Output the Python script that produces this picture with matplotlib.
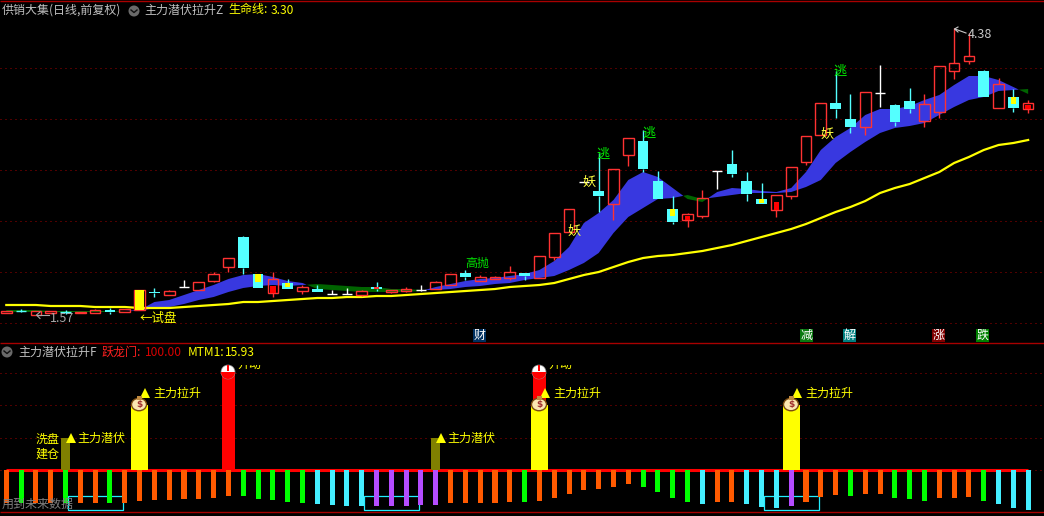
import numpy as np
import matplotlib
matplotlib.use('Agg')
import matplotlib.pyplot as plt
from matplotlib.patches import Rectangle, Circle, Wedge, Ellipse

plt.rcParams['font.family'] = ['Noto Sans CJK SC', 'DejaVu Sans']

# K line, 70 days
kinds = ['r','c','r','r','c','r','r','c','r','r',
         'c','r','w','r','r','r','c','c','r','c',
         'r','c','w','w','r','c','r','r','w','r',
         'r','c','r','r','r','c','r','r','r','w',
         'c','r','r','c','c','c','r','r','w','c',
         'c','c','r','r','r','r','c','c','r','w',
         'c','c','r','r','r','r','c','r','c','r']
body_top = [1.58,1.58,1.58,1.58,1.57,1.57,1.59,1.59,1.60,1.79,
            1.77,1.78,1.82,1.87,1.95,2.11,2.32,1.95,1.90,1.86,
            1.82,1.80,1.75,1.75,1.78,1.82,1.79,1.80,1.79,1.87,
            1.95,1.96,1.92,1.92,1.97,1.96,2.13,2.36,2.60,2.87,
            2.78,3.00,3.31,3.28,2.88,2.60,2.55,2.71,2.98,3.05,
            2.88,2.70,2.74,3.02,3.33,3.66,3.66,3.50,3.77,3.76,
            3.64,3.68,3.65,4.03,4.06,4.13,3.98,3.85,3.72,3.66]
body_bot = [1.56,1.58,1.54,1.56,1.57,1.56,1.56,1.57,1.57,1.59,
            1.76,1.74,1.82,1.79,1.88,2.02,2.01,1.81,1.76,1.80,
            1.78,1.77,1.75,1.75,1.74,1.80,1.77,1.78,1.79,1.80,
            1.84,1.92,1.88,1.90,1.91,1.93,1.91,2.12,2.37,2.87,
            2.73,2.65,3.14,3.00,2.70,2.47,2.49,2.53,2.98,2.95,
            2.75,2.65,2.59,2.73,3.07,3.34,3.60,3.42,3.42,3.76,
            3.47,3.60,3.48,3.57,3.98,4.08,3.72,3.61,3.61,3.60]
highs = [1.58,1.60,1.58,1.58,1.59,1.57,1.60,1.61,1.60,1.79,
         1.81,1.79,1.89,1.87,1.97,2.11,2.33,1.95,1.97,1.90,
         1.84,1.84,1.79,1.81,1.79,1.87,1.79,1.82,1.84,1.88,
         1.95,1.99,1.94,1.93,2.03,1.96,2.13,2.36,2.60,2.87,
         3.16,3.00,3.31,3.39,2.98,2.73,2.56,2.79,2.98,3.19,
         2.97,2.86,2.74,3.02,3.33,3.66,3.98,3.75,3.77,4.04,
         3.65,3.81,3.75,4.03,4.41,4.36,3.99,3.91,3.80,3.69]
lows = [1.56,1.57,1.54,1.56,1.55,1.56,1.56,1.55,1.57,1.59,
        1.72,1.74,1.82,1.79,1.87,1.97,1.95,1.81,1.72,1.80,
        1.75,1.77,1.75,1.75,1.73,1.78,1.76,1.77,1.78,1.80,
        1.84,1.89,1.88,1.90,1.89,1.89,1.91,2.09,2.37,2.87,
        2.57,2.49,3.03,2.97,2.70,2.45,2.42,2.51,2.80,2.92,
        2.68,2.65,2.52,2.70,3.04,3.34,3.51,3.36,3.34,3.62,
        3.43,3.56,3.42,3.51,3.90,4.05,3.72,3.61,3.57,3.56]
# small filled part inside some candles
inner_idx = [17,18,19,25,45,46,51,52,68,69]
inner_top = [1.95,1.83,1.86,1.82,2.60,2.53,2.70,2.67,3.72,3.64]
inner_bot = [1.87,1.76,1.82,1.80,2.53,2.49,2.66,2.59,3.65,3.60]
inner_col = ['#ffff00','#ff0000','#ffff00','#ff3232','#ffff00','#ff0000','#ffff00','#ff0000','#ffff00','#ff0000']

# blue band and life line
fast = [1.57,1.57,1.57,1.57,1.57,1.57,1.57,1.57,1.58,1.59,
        1.67,1.69,1.74,1.79,1.84,1.90,1.94,1.95,1.92,1.88,
        1.86,1.80,1.79,1.78,1.77,1.77,1.77,1.77,1.78,1.82,
        1.85,1.88,1.90,1.91,1.93,1.95,1.99,2.08,2.22,2.46,
        2.56,2.69,2.89,2.97,2.92,2.81,2.70,2.67,2.77,2.81,
        2.80,2.78,2.77,2.81,2.97,3.19,3.32,3.41,3.54,3.60,
        3.60,3.63,3.69,3.74,3.84,3.93,3.93,3.89,3.82,3.75]
slow = [1.59,1.59,1.59,1.58,1.58,1.58,1.58,1.58,1.58,1.58,
        1.61,1.62,1.65,1.69,1.72,1.77,1.81,1.83,1.84,1.83,
        1.84,1.85,1.84,1.83,1.82,1.82,1.80,1.80,1.79,1.79,
        1.80,1.82,1.83,1.85,1.86,1.89,1.91,1.93,1.99,2.06,
        2.16,2.36,2.52,2.61,2.70,2.71,2.74,2.70,2.72,2.74,
        2.76,2.76,2.76,2.77,2.82,2.89,3.06,3.17,3.27,3.36,
        3.41,3.43,3.46,3.54,3.62,3.69,3.72,3.78,3.79,3.80]
life = [1.64,1.64,1.64,1.63,1.63,1.63,1.62,1.62,1.62,1.61,
        1.61,1.61,1.62,1.63,1.64,1.65,1.67,1.67,1.68,1.69,
        1.70,1.71,1.71,1.72,1.72,1.73,1.73,1.74,1.75,1.76,
        1.77,1.78,1.79,1.80,1.82,1.83,1.84,1.86,1.90,1.94,
        1.97,2.02,2.07,2.11,2.13,2.14,2.16,2.18,2.21,2.24,
        2.28,2.32,2.36,2.40,2.45,2.51,2.57,2.62,2.68,2.76,
        2.81,2.85,2.91,2.97,3.06,3.12,3.19,3.24,3.26,3.29]
grid_up = [4.01,3.50,2.99,2.48,1.97,1.46]

# lower panel
mtm = [-50,-50,-50,-50,-50,-50,-50,-50,-50,-47,
       -46,-46,-44,-44,-43,-39,-39,-44,-46,-49,
       -50,-52,-53,-55,-55,-55,-55,-55,-53,-53,
       -50,-50,-50,-50,-49,-49,-47,-43,-36,-30,
       -29,-26,-21,-26,-33,-43,-49,-52,-49,-49,
       -52,-56,-58,-55,-49,-41,-38,-39,-36,-36,
       -43,-44,-47,-43,-43,-41,-47,-52,-58,-61]
mtm_col = ['o','g','o','o','g','o','o','g','o','o',
           'o','o','o','o','o','o','g','g','g','g',
           'g','c','c','c','c','p','p','p','p','p',
           'o','o','o','o','o','g','o','o','o','o',
           'o','o','o','g','g','g','g','c','o','o',
           'c','c','c','p','o','o','o','g','o','o',
           'g','g','g','o','o','o','g','c','c','c']
olive_idx = [4,29]
olive_val = [50,50]
red_idx = [15,36]
red_val = [150,150]
yellow_idx = [9,36,53]
yellow_val = [100,100,100]
box_start = [4,24,51]
grid_low = [150,100,50,0]

bar_colors = {'o':'#ff5a00','g':'#00ff00','c':'#44eeff','p':'#b44cff'}
xs = np.arange(len(life))

fig = plt.figure(figsize=(10.44,5.16), dpi=100, facecolor='black')
ax1 = fig.add_axes([0,172/516,1,344/516])
ax2 = fig.add_axes([0,0,1,172/516])
over = fig.add_axes([0,0,1,1])  # texts and little signs, in pixels
over.set_xlim(0,1044)
over.set_ylim(516,0)
over.axis('off')
over.patch.set_alpha(0)

for ax in [ax1,ax2]:
    ax.set_xlim(-0.425,70.07)
    ax.set_facecolor('black')
    ax.axis('off')
ax1.set_ylim(1.25,4.69)
ax2.set_ylim(-70,194.6)

DOT = (0,(1,4))
for g in grid_up:
    ax1.axhline(g, color='#a00000', lw=0.72, ls=DOT, zorder=1)
for g in grid_low:
    ax2.axhline(g, color='#a00000', lw=0.72, ls=DOT, zorder=1)

# band
fast_a = np.array(fast)
slow_a = np.array(slow)
ax1.fill_between(xs, slow_a, fast_a, where=fast_a>=slow_a, interpolate=True, color='#3838e0', lw=0, zorder=2)
ax1.fill_between(xs, slow_a, fast_a, where=fast_a<=slow_a, interpolate=True, color='#006400', lw=0, zorder=2)
ax1.plot(xs, life, color='#ffff00', lw=1.6, zorder=3, solid_joinstyle='miter')

# candles, the red ones are hollow and the band shows through
colors = {'r':'#ff3232','c':'#54ffff','w':'#ffffff'}
W = 0.72
for i in xs:
    c = colors[kinds[i]]
    ax1.vlines(i, body_top[i], highs[i], color=c, lw=1, zorder=4)
    ax1.vlines(i, lows[i], body_bot[i], color=c, lw=1, zorder=4)
    if body_top[i] == body_bot[i]:
        ax1.hlines(body_top[i], i-W/2, i+W/2, color=c, lw=1, zorder=5)
    elif kinds[i] == 'r':
        ax1.bar(i, body_top[i]-body_bot[i], W, body_bot[i], facecolor='none', edgecolor=c, lw=1, zorder=5)
    else:
        ax1.bar(i, body_top[i]-body_bot[i], W, body_bot[i], color=c, lw=0, zorder=5)
for i,t,b,c in zip(inner_idx,inner_top,inner_bot,inner_col):
    ax1.bar(i, t-b, 0.36, b, color=c, lw=0, zorder=6)
# the big yellow day
ax1.bar(9, body_top[9]-body_bot[9], 0.66, body_bot[9], color='#ffff00', lw=0, zorder=6)

# lower panel bars
ax2.plot(xs, np.zeros(len(xs)), color='#ff0000', lw=2.2, zorder=2, solid_capstyle='butt')
for i in xs:
    ax2.bar(i, mtm[i], 0.34, color=bar_colors[mtm_col[i]], lw=0, zorder=3)
ax2.bar(olive_idx, olive_val, 0.6, color='#808000', lw=0, zorder=4)
ax2.bar(red_idx, red_val, 0.88, color='#ff0000', lw=0, zorder=4)
ax2.bar(yellow_idx, yellow_val, 1.15, color='#ffff00', lw=0, zorder=5)
for s in box_start:
    ax2.add_patch(Rectangle((s+0.17,-60.8), 3.68, 21.6, fill=False, edgecolor='#22eeff', lw=0.9, zorder=2.5))

# separating lines
for y in [1,343,512]:
    over.hlines(y, 0, 1044, color='#a80000', lw=1)

FS = 8.64
GRAY = '#c0c0c0'
def put(x, y, s, color, **kw):
    return over.text(x, y, s, color=color, fontsize=kw.pop('fs',FS), ha=kw.pop('ha','left'), va='center', **kw)

def button(x, y):
    over.add_patch(Circle((x,y), 5.5, facecolor='#6a6a6a', edgecolor='none'))
    over.plot([x-3,x,x+3],[y-1,y+1.5,y-1], color='#101010', lw=1)

# headers
put(2, 10, '供销大集(日线,前复权)', GRAY)
button(134, 11)
put(144, 10, '主力潜伏拉升Z', GRAY)
put(228, 10, '生命线:', '#ffff00')
put(271, 10, '3.30', '#ffff00')
button(7, 352)
put(18, 352, '主力潜伏拉升F', GRAY)
put(102, 352, '跃龙门:', '#ff2020')
put(145, 352, '100.00', '#d80000')
put(188, 352, 'MTM1:', '#ffff00')
put(225, 352, '15.93', '#ffff00')

# upper panel notes
put(50, 318.5, '1.57', '#a8a8a8', fs=9)
over.plot([37,49],[315,315], color='#a8a8a8', lw=0.8)
over.plot([40,36.5,40],[312,315,318.5], color='#a8a8a8', lw=0.8)
put(968, 34, '4.38', '#c8c8c8', fs=9)
over.plot([955,966],[29,33], color='#c8c8c8', lw=0.8)
over.plot([958,954.5,958],[27,29,32], color='#c8c8c8', lw=0.8)
put(140, 318, '←试盘', '#ffff00', fs=9)
put(465, 263, '高抛', '#00e000', fs=FS)
for x,y in [(589,182),(574,231),(827,134)]:
    put(x, y, '妖', '#ffff40', ha='center', zorder=8, fs=9.5)
for x,y in [(603,154),(649,133),(840,71)]:
    put(x, y, '逃', '#00f000', ha='center', zorder=8, fs=9.5)

# tags over the lower line
tags = [(473,'财','#003060'),(800,'减','#0a7a10'),(843,'解','#008080'),(932,'涨','#800000'),(976,'跌','#008000')]
for x,s,bg in tags:
    over.add_patch(Rectangle((x,329), 13, 13, facecolor=bg, edgecolor='none'))
    put(x+6.5, 335.5, s, 'white', ha='center')

# lower panel notes
put(36, 439, '洗盘', '#ffff00')
put(36, 454, '建仓', '#ffff00')
for tx,ty,lab in [(71,438,'主力潜伏'),(145,393,'主力拉升'),(441,438,'主力潜伏'),(545,393,'主力拉升'),(797,393,'主力拉升')]:
    over.plot(tx, ty, marker='^', color='#ffff00', ms=6.5, mew=0, zorder=9)
    put(tx+6 if lab=='主力潜伏' else tx+8.5, ty+0.5, lab, '#ffff00')

def money_bag(x, y):
    over.add_patch(Ellipse((x,y+0.5), 15, 12.5, facecolor='#fbe6b0', edgecolor='#7a4a10', lw=1, zorder=10))
    over.add_patch(Rectangle((x-2.5,y-8), 5, 3.5, facecolor='#c08a40', edgecolor='none', zorder=10))
    over.text(x, y+0.5, '$', color='#a03030', fontsize=6.5, fontweight='bold', ha='center', va='center', zorder=11, family='DejaVu Sans')
for x in [139,539,791]:
    money_bag(x, 404)

clip = Rectangle((0,365), 1044, 20, transform=over.transData)
for x,lab_x in [(228,237),(539,548)]:
    over.add_patch(Circle((x,372), 7, facecolor='white', edgecolor='#888888', lw=0.5, zorder=6))
    over.add_patch(Wedge((x,372), 7, 0, 180, facecolor='#ff0000', edgecolor='none', zorder=7))
    over.add_patch(Rectangle((x-1,365), 2, 6, facecolor='#ff0000', edgecolor='none', zorder=7))
    t = put(lab_x, 364, '开动', '#ffff00', zorder=7)
    t.set_clip_on(True)
    t.set_clip_path(clip)

put(2, 504, '用到未来数据', '#808080', zorder=1)

fig.savefig('out.png', dpi=100, facecolor='black')
